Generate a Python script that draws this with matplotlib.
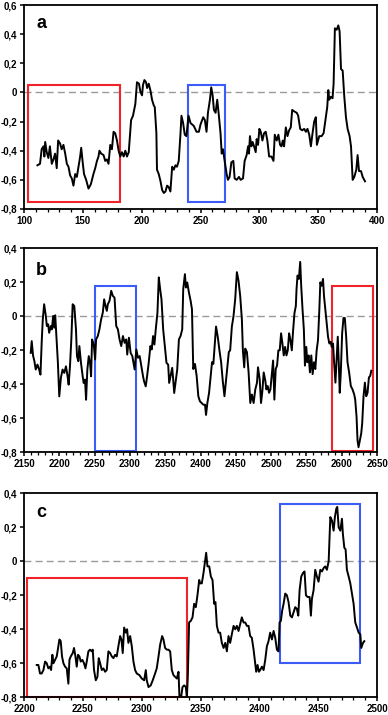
import matplotlib
matplotlib.use("Agg")
import matplotlib.pyplot as plt
from matplotlib.patches import Rectangle
from matplotlib.ticker import MultipleLocator, FuncFormatter

plt.rcParams['font.family'] = ['Liberation Sans', 'DejaVu Sans']

# panel a
a_x = [111.4, 113.6, 115, 116.5, 117.3, 118, 119.3, 120.7, 122, 123.6, 125, 126.4, 127.8, 129, 130.6,
       132, 133.5, 135, 136.4, 137.8, 139.2, 140.6, 142, 143.5, 144.9, 146.3, 147.7, 148.6, 150, 151,
       152.8, 154.8, 156.8, 159, 160.5, 162, 163.3, 164.1, 165.6, 167.6, 169, 170.4, 171.8, 173.3, 174.7,
       176.1, 177.5, 179, 180.4, 181.8, 183.2, 184.7, 186.1, 187.5, 189, 191, 192.6, 194.6, 196, 197.7,
       198.9, 200.3, 201.1, 202.3, 203.7, 204.6, 206, 207.4, 208.8, 210.3, 211.1, 212.5, 213, 214.5, 216,
       217.4, 218.8, 220.2, 221.6, 223, 224.4, 225.9, 227.3, 228.7, 230, 231.5, 233, 233.8, 235.2, 236.6,
       238, 239.8, 241.5, 244.3, 246.6, 248.6, 250, 252.3, 253.7, 255.1, 256.3, 258, 259.1, 260.3, 261.4,
       262.8, 264.2, 265.6, 267, 268, 269.1, 270.5, 272.2, 273.3, 274.7, 276.2, 277.9, 279, 280.7, 282.7,
       284.1, 286.1, 287.5, 289.2, 290.4, 291.2, 292, 293.2, 294.3, 295.5, 296.9, 297.7, 298.9, 300, 301.2,
       302.6, 304, 305.4, 306.8, 308.3, 310.3, 312, 313.1, 314.8, 316.2, 317.6, 318.8, 319.9, 321, 322.5,
       323.9, 325.3, 326.7, 327.9, 329.6, 331.8, 333, 334.7, 336.4, 338.1, 339.5, 340.9, 342.4, 343.8,
       345.2, 346.6, 348, 348.9, 350.9, 352.9, 354.6, 356.3, 357.7, 358.6, 359.4, 360.8, 362.2, 363.1,
       364.2, 365.7, 367.1, 368.2, 369.4, 370.8, 372.2, 373.6, 375, 376.7, 377.9, 379.3, 380.7, 382.4,
       383.5, 384.7, 386.4, 387.8, 389.8]
a_y = [-0.50, -0.49, -0.39, -0.37, -0.44, -0.34, -0.41, -0.45, -0.37, -0.49, -0.46, -0.42, -0.52, -0.33, -0.35,
       -0.39, -0.36, -0.42, -0.49, -0.51, -0.57, -0.59, -0.64, -0.56, -0.58, -0.51, -0.44, -0.38, -0.49, -0.56,
       -0.60, -0.66, -0.63, -0.56, -0.52, -0.47, -0.44, -0.40, -0.42, -0.43, -0.47, -0.46, -0.49, -0.36, -0.39,
       -0.27, -0.28, -0.33, -0.40, -0.44, -0.41, -0.44, -0.40, -0.44, -0.41, -0.19, -0.16, -0.08, 0.07, 0.06,
       0.005, -0.02, 0.05, 0.085, 0.07, 0.03, 0.06, 0.015, -0.05, -0.09, -0.10, -0.28, -0.53, -0.56, -0.61,
       -0.67, -0.69, -0.68, -0.64, -0.65, -0.68, -0.51, -0.53, -0.50, -0.51, -0.47, -0.28, -0.16, -0.21, -0.29,
       -0.30, -0.16, -0.21, -0.23, -0.27, -0.27, -0.22, -0.17, -0.19, -0.27, -0.14, -0.05, 0.035, -0.02, -0.12,
       -0.14, -0.05, -0.16, -0.28, -0.42, -0.39, -0.47, -0.56, -0.60, -0.58, -0.48, -0.47, -0.59, -0.60, -0.58,
       -0.60, -0.59, -0.47, -0.43, -0.37, -0.42, -0.30, -0.37, -0.34, -0.37, -0.41, -0.32, -0.36, -0.25, -0.27,
       -0.33, -0.28, -0.27, -0.33, -0.44, -0.44, -0.47, -0.29, -0.33, -0.29, -0.36, -0.37, -0.33, -0.37, -0.24,
       -0.30, -0.26, -0.24, -0.12, -0.13, -0.14, -0.16, -0.25, -0.26, -0.25, -0.27, -0.25, -0.29, -0.37,
       -0.28, -0.20, -0.17, -0.36, -0.30, -0.30, -0.28, -0.18, -0.10, 0.016, -0.05, -0.03, -0.04, 0.06,
       0.44, 0.43, 0.46, 0.42, 0.16, 0.15, -0.03, -0.17, -0.25, -0.30, -0.37, -0.60, -0.58, -0.53,
       -0.43, -0.54, -0.54, -0.58, -0.61]

# panel b
b_x = [2159.5, 2160.9, 2162.8, 2164.7, 2166.6, 2169, 2171.4, 2173.3, 2175.2, 2176.6, 2178.5, 2180.9, 2182.3,
       2184.2, 2185.6, 2188, 2189.4, 2191.3, 2192.7, 2194.2, 2196.1, 2198, 2199.9, 2202.2, 2204.6, 2207,
       2209.4, 2211.7, 2213.2, 2215.1, 2217, 2218.9, 2221.2, 2223.6, 2225, 2226.9, 2228.4, 2230.7, 2233.1,
       2234.5, 2236.4, 2237.9, 2239.7, 2241.7, 2243.5, 2245, 2246.4, 2248.8, 2250.7, 2252.1, 2254.5, 2256.8,
       2259.2, 2261.6, 2263.5, 2265.4, 2267.3, 2268.7, 2271.1, 2273.5, 2275.8, 2278.2, 2280.6, 2283, 2285.3,
       2287.7, 2290.1, 2292.5, 2294.8, 2296.2, 2298.6, 2301, 2303.4, 2306.7, 2309.1, 2311.4, 2313.8, 2316.2,
       2318.6, 2320, 2322.4, 2324.3, 2326.6, 2329, 2330.9, 2332.8, 2334.7, 2336.6, 2339, 2340.9, 2342.8,
       2344.7, 2347.1, 2349.4, 2351.8, 2354.2, 2355.6, 2357.5, 2359.9, 2361.3, 2362.7, 2364.6, 2367, 2369.4,
       2371.7, 2374.1, 2375.5, 2377.9, 2379.3, 2381.2, 2383.6, 2386, 2387.9,
       2389.7, 2392.1, 2394.5, 2396.9, 2399.2, 2401.6, 2404, 2406.4, 2407.8, 2409.7, 2412.1, 2414.4, 2416.3,
       2418.2, 2420.6, 2422, 2424.4, 2426.8, 2429.2, 2431.5, 2433.9, 2435.8, 2438.2, 2440.1, 2442, 2444.4,
       2446.7, 2449.1, 2451.5, 2453.8, 2456.2, 2458.6, 2460, 2461.9, 2463.3, 2465.7, 2468.1, 2470.5, 2472.8,
       2475.2, 2477.6, 2480, 2481.4, 2483.8, 2485.7, 2487.6, 2489.5, 2491.8, 2493.3, 2495.2, 2497.1, 2499,
       2501.3, 2502.8, 2504.6, 2506.5, 2508.4, 2510.3, 2512.2, 2514.1, 2516, 2517.9, 2519.8, 2521.7, 2523.6,
       2525.5, 2527.4, 2529.3, 2531.2, 2533.1, 2535, 2536, 2537.4, 2539.3, 2541.2, 2542.6, 2544.5, 2546.4,
       2547.9, 2549.8, 2551.2, 2553.1, 2555, 2556.9, 2558.8, 2560.7, 2562.6, 2564.5, 2566.4, 2568.3, 2569.7,
       2571.6, 2573.5, 2574.9, 2576.8, 2578.7, 2580.6, 2582.5, 2584.4, 2585.8, 2587.7, 2589.2, 2591.1, 2593,
       2594.4, 2595.8, 2597.2, 2598.7, 2600.6, 2602.5, 2604.4, 2606.3, 2608.2, 2610.5, 2612.9, 2615.3,
       2617.7, 2619.1, 2621, 2622.4, 2623.8, 2625.7, 2627.6, 2629, 2630.9, 2632.8, 2634.7, 2636.6, 2638.5,
       2640.4, 2641.9]
b_y = [-0.215, -0.146, -0.231, -0.264, -0.313, -0.284, -0.313, -0.343, -0.136, -0.018, 0.071, 0.002, -0.057,
       -0.047, -0.097, -0.057, -0.077, 0.002, -0.067, 0.006, -0.136, -0.274, -0.471, -0.363, -0.313, -0.333,
       -0.294, -0.353, -0.402, -0.294, -0.136, 0.071, 0.061, -0.077, -0.234, -0.264, -0.175, -0.274, -0.353,
       -0.392, -0.372, -0.491, -0.313, -0.234, -0.274, -0.353, -0.136, -0.166, -0.254, -0.136, -0.116, -0.077,
       -0.018, 0.022, 0.100, 0.061, 0.032, 0.071, 0.091, 0.150, 0.120, 0.110, -0.057, -0.077, -0.136,
       -0.175, -0.116, -0.156, -0.136, -0.225, -0.126, -0.215, -0.234, -0.313, -0.195, -0.244, -0.234, -0.294,
       -0.353, -0.382, -0.412, -0.353, -0.274, -0.175, -0.195, -0.116, -0.166, -0.077, 0.022, 0.229, 0.160,
       0.100, -0.077, -0.175, -0.274, -0.284, -0.392, -0.353, -0.303, -0.372, -0.451, -0.392, -0.313, -0.136,
       -0.116, -0.077, 0.160, 0.248, 0.169, 0.199, 0.140, 0.091, 0.041,
       -0.31, -0.28, -0.35, -0.47, -0.50, -0.51, -0.52, -0.52, -0.58, -0.51, -0.45, -0.35, -0.27,
       -0.28, -0.14, -0.06, -0.12, -0.20, -0.27, -0.38, -0.47, -0.39, -0.29, -0.21, -0.20, -0.06,
       0.0, 0.10, 0.26, 0.21, 0.12, -0.02, -0.20, -0.30, -0.19, -0.21, -0.33, -0.51, -0.46,
       -0.51, -0.43, -0.39, -0.30, -0.37, -0.51, -0.44, -0.33, -0.38, -0.43, -0.41, -0.45, -0.43,
       -0.33, -0.26, -0.49, -0.31, -0.29, -0.20, -0.20, -0.10, -0.16, -0.23, -0.18, -0.23, -0.20,
       -0.10, -0.14, -0.20, -0.08, 0.02, 0.06, 0.16, 0.24, 0.22, 0.32, 0.18, 0.04, -0.08,
       -0.29, -0.18, -0.27, -0.23, -0.33, -0.23, -0.34, -0.27, -0.31, -0.20, -0.14, 0.04, 0.20,
       0.18, 0.22, 0.12, 0.04, -0.04, -0.12, -0.16, -0.15, -0.18, -0.16, -0.27, -0.39, -0.23,
       -0.12, -0.27, -0.45, -0.33, -0.10, -0.01, -0.01, -0.12, -0.27, -0.33, -0.41, -0.43,
       -0.46, -0.49, -0.59, -0.73, -0.77, -0.73, -0.69, -0.63, -0.47, -0.39, -0.47, -0.45, -0.36,
       -0.35, -0.32]

# panel c
c_x = [2210.8, 2212.2, 2213.6, 2215.0, 2216.5, 2217.9, 2219.3, 2220.7, 2222.1, 2223.0, 2224.1, 2225.0, 2226.4,
       2227.8, 2229.2, 2230.1, 2231.2, 2232.3, 2233.5, 2234.9, 2236.3, 2237.7, 2238.6, 2239.7, 2241.4, 2242.5,
       2243.7, 2244.8, 2245.9, 2247.1, 2248.2, 2249.6, 2251.0, 2252.2, 2253.3, 2254.7, 2256.1, 2257.6, 2258.4,
       2259.5, 2261.0, 2262.4, 2263.5, 2264.7, 2266.1, 2267.5, 2268.9, 2270.3, 2271.7, 2273.2, 2274.6, 2276.0,
       2277.4, 2278.8, 2280.2, 2281.7, 2282.8, 2283.9, 2285.1, 2286.5, 2287.6, 2288.7, 2290.2, 2291.6, 2293.0,
       2294.4, 2295.8, 2298.1, 2300.1, 2302.1, 2303.5, 2304.3, 2305.8, 2307.7, 2309.4, 2311.4, 2312.8, 2314.3,
       2315.7, 2317.4, 2318.5, 2319.9, 2321.4, 2322.8, 2324.2, 2325.6, 2327.0, 2328.4, 2329.9, 2331.3, 2332.1,
       2333.5, 2334.7, 2336.1, 2337.5, 2338.4, 2339.2, 2340.3, 2341.8, 2343.2, 2344.6, 2346.0, 2347.4, 2348.9,
       2349.7, 2351.1, 2352.5, 2354.0, 2354.8, 2355.9, 2357.4, 2358.8, 2360.2, 2361.6, 2362.7, 2363.9, 2365.3,
       2366.7, 2368.1, 2369.6, 2371.0, 2372.4, 2373.8, 2375.2, 2376.6, 2378.1, 2379.5, 2380.9, 2382.3, 2383.7,
       2385.1, 2386.6, 2388.0, 2389.4, 2390.8, 2392.2, 2393.6, 2395.1, 2396.5, 2397.3, 2398.5, 2399.6, 2400.7,
       2402.2, 2403.6, 2405.0, 2406.4, 2407.8, 2409.2, 2410.7, 2412.1, 2413.5, 2414.9, 2416.3, 2417.2, 2418.3,
       2419.4, 2420.6, 2422.0, 2423.4, 2424.8, 2426.3, 2427.7, 2429.1, 2430.5, 2431.9, 2433.1, 2434.2, 2435.6,
       2437.0, 2438.4, 2439.6, 2441.0, 2442.7, 2443.8, 2444.7, 2446.1, 2447.5, 2448.9, 2450.3, 2451.8, 2453.2,
       2454.6, 2456.0, 2457.4, 2458.9, 2460.3, 2461.7, 2463.1, 2464.2, 2465.4, 2466.2, 2467.4, 2468.8, 2470.2,
       2471.0, 2472.2, 2473.3, 2474.4, 2475.9, 2477.3, 2478.7, 2480.1, 2481.5, 2483.0, 2484.4, 2485.8, 2486.6,
       2488.1, 2489.2]
c_y = [-0.61, -0.61, -0.66, -0.66, -0.64, -0.59, -0.60, -0.63, -0.62, -0.64, -0.55, -0.60, -0.58,
       -0.56, -0.50, -0.46, -0.47, -0.56, -0.60, -0.62, -0.63, -0.72, -0.58, -0.56, -0.54, -0.51,
       -0.56, -0.62, -0.55, -0.56, -0.59, -0.58, -0.60, -0.63, -0.59, -0.53, -0.52, -0.53, -0.52,
       -0.64, -0.70, -0.68, -0.57, -0.60, -0.64, -0.63, -0.65, -0.64, -0.53, -0.54, -0.56, -0.57,
       -0.55, -0.56, -0.50, -0.44, -0.46, -0.54, -0.39, -0.42, -0.40, -0.48, -0.44, -0.50, -0.59,
       -0.64, -0.66, -0.67, -0.69, -0.70, -0.64, -0.70, -0.74, -0.73, -0.70, -0.66, -0.63, -0.56,
       -0.49, -0.44, -0.46, -0.51, -0.52, -0.52, -0.53, -0.64, -0.67, -0.68, -0.69, -0.65, -0.80,
       -0.80, -0.74, -0.73, -0.74, -0.80, -0.68, -0.36, -0.35, -0.33, -0.25, -0.27, -0.20, -0.11,
       -0.13, -0.13, -0.07, 0.01, 0.05, -0.03, -0.03, -0.09, -0.11, -0.25, -0.24, -0.38, -0.42,
       -0.42, -0.48, -0.51, -0.48, -0.53, -0.44, -0.48, -0.43, -0.38, -0.40, -0.38, -0.41, -0.37,
       -0.33, -0.36, -0.36, -0.38, -0.38, -0.44, -0.45, -0.52, -0.60, -0.65, -0.61, -0.65, -0.64,
       -0.62, -0.64, -0.58, -0.50, -0.47, -0.42, -0.46, -0.41, -0.45, -0.52, -0.53, -0.36, -0.35,
       -0.29, -0.25, -0.19, -0.20, -0.24, -0.32, -0.33, -0.30, -0.27, -0.28, -0.32, -0.17, -0.09,
       -0.07, -0.06, -0.20, -0.21, -0.21, -0.32, -0.22, -0.17, -0.05, -0.09, -0.12, -0.05, -0.06,
       -0.04, -0.03, -0.05, 0.00, 0.26, 0.24, 0.18, 0.26, 0.31, 0.32, 0.20, 0.18, 0.25,
       0.16, 0.08, 0.07, -0.05, -0.09, -0.13, -0.19, -0.25, -0.36, -0.39, -0.42, -0.43, -0.51,
       -0.48, -0.47]

# boxes: x0, x1, y0, y1, colour
a_boxes = [(103.7, 181.8, -0.75, 0.05, '#f2222a'), (239.2, 271.0, -0.75, 0.05, '#3b5cf6')]
b_boxes = [(2250.6, 2308.0, -0.79, 0.18, '#3b5cf6'), (2586.7, 2644.0, -0.79, 0.18, '#f2222a')]
c_boxes = [(2202.8, 2338.9, -0.80, -0.10, '#f2222a'), (2417.7, 2485.2, -0.60, 0.335, '#3b5cf6')]

panels = [
    ('a', a_x, a_y, a_boxes, (100, 400), (-0.8, 0.6), 0.7077, 0.91),
    ('b', b_x, b_y, b_boxes, (2150, 2650), (-0.8, 0.4), 0.3674, 0.893),
    ('c', c_x, c_y, c_boxes, (2200, 2500), (-0.8, 0.4), 0.0248, 0.906),
]


def comma_fmt(v, pos):
    if abs(v) < 1e-9:
        return '0'
    return ('%.1f' % v).replace('.', ',')


fig = plt.figure(figsize=(3.88, 7.15), dpi=100)

for letter, xs, ys, boxes, xlim, ylim, bottom, ly in panels:
    ax = fig.add_axes([0.0619, bottom, 0.9098, 0.2853])
    ax.axhline(0, color='#9a9a9a', lw=1, linestyle=(0, (5, 3)), zorder=1)
    for x0, x1, y0, y1, col in boxes:
        ax.add_patch(Rectangle((x0, y0), x1 - x0, y1 - y0, fill=False, edgecolor=col,
                               lw=1.5, clip_on=False, zorder=2))
    ax.plot(xs, ys, color='black', lw=1.4, zorder=3)
    ax.set_xlim(*xlim)
    ax.set_ylim(*ylim)
    ax.xaxis.set_major_locator(MultipleLocator(50))
    ax.xaxis.set_minor_locator(MultipleLocator(10))
    ax.yaxis.set_major_locator(MultipleLocator(0.2))
    ax.yaxis.set_major_formatter(FuncFormatter(comma_fmt))
    ax.tick_params(which='major', direction='out', length=3, width=1.1, pad=2,
                   labelsize=7)
    ax.tick_params(which='minor', direction='out', length=2, width=0.9)
    for lab in ax.get_xticklabels() + ax.get_yticklabels():
        lab.set_fontweight('bold')
    for sp in ax.spines.values():
        sp.set_linewidth(1.3)
    ax.text(0.034, ly, letter, transform=ax.transAxes, fontsize=13, fontweight='bold',
            va='center', ha='left')

fig.savefig('out.png', dpi=100)
plt.close('all')
